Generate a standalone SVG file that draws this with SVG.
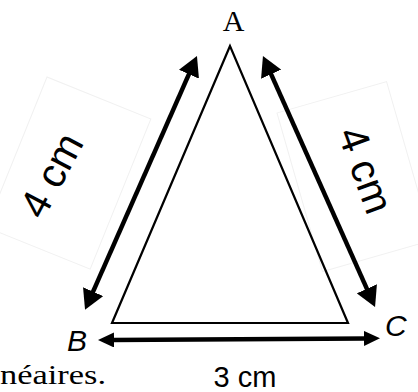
<svg xmlns="http://www.w3.org/2000/svg" width="418" height="392" viewBox="0 0 418 392">
  <style>
    .tri { fill: none; stroke: #000; stroke-width: 2.2; stroke-linejoin: miter; }
    .dim { stroke: #000; stroke-width: 4.5; fill: none; }
    .box { fill: none; stroke: #f1f1f1; stroke-width: 1; }
    .serif { font-family: "Liberation Serif", "DejaVu Serif", serif; fill: #000; }
    .sans { font-family: "Liberation Sans", Arial, sans-serif; fill: #000; }
    .it { font-style: italic; }
  </style>
  <defs>
    <marker id="headL" markerUnits="userSpaceOnUse" viewBox="0 0 20 22" refX="2" refY="11" markerWidth="20" markerHeight="22" orient="auto-start-reverse">
      <path d="M0,0 L20,11 L0,22 Z" fill="#000"/>
    </marker>
    <marker id="headS" markerUnits="userSpaceOnUse" viewBox="0 0 16 15" refX="2" refY="7.5" markerWidth="16" markerHeight="15" orient="auto-start-reverse">
      <path d="M0,0 L16,7.5 L0,15 Z" fill="#000"/>
    </marker>
  </defs>
  <rect width="418" height="392" fill="#fff"/>

  <g id="label-boxes">
    <rect class="box" x="0" y="0" width="112" height="162" transform="translate(47,77) rotate(22)"/>
    <rect class="box" x="0" y="0" width="114" height="165" transform="translate(277,113) rotate(-16)"/>
  </g>

  <g id="triangle">
    <polygon class="tri" points="230,46 112,323 348,323"/>
  </g>

  <g id="connectors">
    <line id="dim-AB" class="dim" x1="92.3" y1="293.4" x2="189.7" y2="72.4" marker-start="url(#headL)" marker-end="url(#headL)"/>
    <line id="dim-AC" class="dim" x1="270.3" y1="72.4" x2="367.7" y2="290.6" marker-start="url(#headL)" marker-end="url(#headL)"/>
    <line id="dim-BC" class="dim" x1="112" y1="340" x2="366" y2="338.4" marker-start="url(#headS)" marker-end="url(#headS)"/>
  </g>

  <g id="label-A"><text class="serif" x="233.5" y="31" font-size="30" text-anchor="middle">A</text></g>
  <g id="label-B"><text class="sans it" x="67" y="351" font-size="30">B</text></g>
  <g id="label-C"><text class="sans it" x="385" y="336" font-size="30">C</text></g>
  <g id="label-AB"><text class="sans" font-size="41" text-anchor="middle" transform="translate(51,175) rotate(-62)" y="14.5">4 cm</text></g>
  <g id="label-AC"><text class="sans" font-size="41" text-anchor="middle" transform="translate(366,170) rotate(70)" y="14.5">4 cm</text></g>
  <g id="label-BC"><text class="sans" x="245" y="387" font-size="29" text-anchor="middle">3 cm</text></g>
  <g id="fragment"><text class="serif" x="0" y="384" font-size="27" textLength="106" lengthAdjust="spacingAndGlyphs">néaires.</text></g>
</svg>
